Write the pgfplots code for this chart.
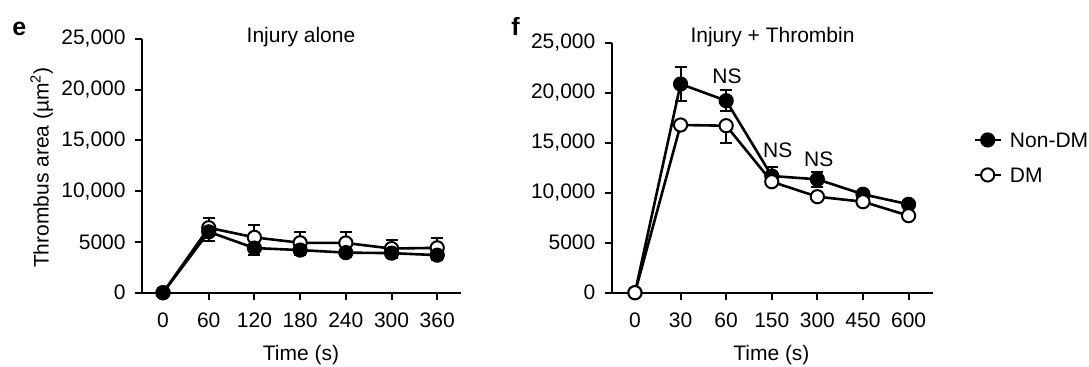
\documentclass[border=0pt]{standalone}
\usepackage{fontspec}
\setmainfont{Liberation Sans}
\usepackage{pgfplots}
\pgfplotsset{compat=1.18}
\begin{document}
\fontsize{10.5}{12.5}\selectfont
\begin{tikzpicture}[font=\fontsize{10.5}{12.5}\selectfont]
\useasboundingbox (0,0) rectangle (544.5pt,183pt);
\pgfplotsset{
  myaxis/.style={
    scale only axis,
    axis lines=left,
    axis line style={line width=1pt, -},
    ymin=0, ymax=25000,
    scaled y ticks=false,
    ytick={0,5000,10000,15000,20000,25000},
    yticklabels={0,5000,{10,000},{15,000},{20,000},{25,000}},
    xtick={0,1,2,3,4,5,6},
    tick align=outside,
    major tick length=3.5pt,
    tick style={line width=1pt, black},
    clip=false,
    xticklabel style={anchor=north, inner sep=0pt, yshift=-6.6pt},
    yticklabel style={anchor=east, inner sep=0pt, xshift=-4.5pt},
    anchor=south west,
  },
  filled/.style={black, line width=1.3pt, mark=*, mark size=3.4pt,
    mark options={solid, fill=black, line width=0.8pt}},
  open/.style={black, line width=1.3pt, mark=*, mark size=3.3pt,
    mark options={solid, fill=white, line width=1pt}},
  ebar/.style={/pgfplots/error bars/error bar style={line width=1pt, solid},
    /pgfplots/error bars/error mark options={rotate=90, mark size=3pt, line width=1pt, solid}},
}
% ---------- panel e ----------
\begin{axis}[myaxis,
  at={(71pt,36.65pt)}, width=159.5pt, height=126.85pt,
  xmin=-0.46, xmax=6.52,
  xticklabels={0,60,120,180,240,300,360}]
\addplot[open, ebar, error bars/.cd, y dir=plus, y explicit] coordinates {
  (0,0) (1,6400) +- (0,1000) (2,5450) +- (0,1250) (3,4920) +- (0,1100)
  (4,4900) +- (0,1050) (5,4350) +- (0,800) (6,4420) +- (0,950)};
\addplot[filled, ebar, error bars/.cd, y dir=minus, y explicit] coordinates {
  (0,0) (1,6000) +- (0,900) (2,4400) +- (0,700) (3,4200) +- (0,500)
  (4,3950) +- (0,450) (5,3900) +- (0,450) (6,3700) +- (0,500)};
\end{axis}
% ---------- panel f ----------
\begin{axis}[myaxis,
  at={(305.85pt,36.65pt)}, width=160.65pt, height=125pt,
  xmin=-0.51, xmax=6.535,
  xticklabels={0,30,60,150,300,450,600},
  legend style={at={(axis description cs:1.1245,0.541)}, anchor=west,
    draw=none, fill=none, inner sep=0pt, row sep=10pt, column sep=4pt,
    nodes={inner sep=0pt, text height=7.5pt, text depth=0pt},
    cells={anchor=west}},
  legend image code/.code={\draw[mark repeat=2,mark phase=2,#1]
    plot coordinates {(0pt,0pt) (6.5pt,0pt) (13pt,0pt)};}]
\addplot[filled, ebar, error bars/.cd, y dir=both, y explicit] coordinates {
  (0,0) (1,20870) +- (0,1700) (2,19200) +- (0,1070) (3,11670) +- (0,870)
  (4,11340) +- (0,770) (5,9840) +- (0,300) (6,8840) +- (0,300)};
\addlegendentry{Non-DM}
\addplot[open, ebar, error bars/.cd, y dir=minus, y explicit] coordinates {
  (0,0) (1,16770) +- (0,300) (2,16700) +- (0,1760) (3,11100) +- (0,300)
  (4,9600) +- (0,300) (5,9100) +- (0,250) (6,7700) +- (0,300)};
\addlegendentry{DM}
\node at (axis cs:2.02,21600) {NS};
\node at (axis cs:3.13,14200) {NS};
\node at (axis cs:4.03,13300) {NS};
\end{axis}
% ---------- labels ----------
\node[anchor=base] at (150.5pt,161.85pt) {Injury alone};
\node[anchor=base] at (386.25pt,161.85pt) {Injury + Thrombin};
\node[anchor=base] at (150.5pt,3pt) {Time (s)};
\node[anchor=base] at (385.7pt,3pt) {Time (s)};
\node[rotate=90, anchor=center] at (20.85pt,99.25pt) {Thrombus area (µm\textsuperscript{2})};
\node[anchor=base west, inner sep=0pt, font=\fontsize{12.5}{14}\selectfont\bfseries] at (6pt,165.5pt) {e};
\node[anchor=base west, inner sep=0pt, font=\fontsize{12.5}{14}\selectfont\bfseries] at (255.5pt,165.5pt) {f};
\end{tikzpicture}
\end{document}
